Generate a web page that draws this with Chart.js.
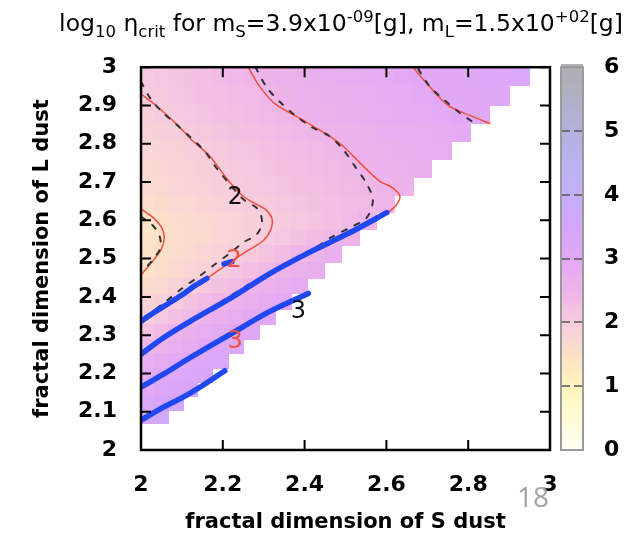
<!DOCTYPE html>
<html>
<head>
<meta charset="utf-8">
<script src="https://cdn.jsdelivr.net/npm/chart.js@4.4.0/dist/chart.umd.min.js"></script>
<style>
  html, body { margin: 0; padding: 0; background: #fff; }
  canvas { display: block; }
</style>
</head>
<body>
<canvas id="chart" width="640" height="543"></canvas>
<script>
// cell edges of the (log-spaced) grid, same for both axes
const cellEdges = [2, 2.034, 2.068, 2.103, 2.139, 2.176, 2.213, 2.251, 2.289, 2.328, 2.368, 2.408, 2.449,
    2.491, 2.534, 2.577, 2.621, 2.666, 2.711, 2.758, 2.805, 2.853, 2.901, 2.951, 3.0];

// log10 eta_crit per cell, first row = top row (L dust 2.951-3.0), each row starts at S dust = 2
const etaRows = [
    [2.05, 2.1, 2.15, 2.2, 2.28, 2.35, 2.42, 2.48, 2.53, 2.58, 2.63, 2.68, 2.73, 2.78, 2.84, 2.89, 2.95, 3.0, 3.04, 3.08, 3.12, 3.16, 3.2],
    [2.02, 2.07, 2.13, 2.19, 2.25, 2.3, 2.35, 2.4, 2.46, 2.52, 2.57, 2.62, 2.67, 2.72, 2.77, 2.82, 2.88, 2.94, 3.0, 3.04, 3.08, 3.12],
    [1.93, 1.99, 2.05, 2.1, 2.16, 2.22, 2.28, 2.34, 2.4, 2.46, 2.52, 2.57, 2.62, 2.68, 2.73, 2.78, 2.83, 2.88, 2.93, 2.98, 3.03],
    [1.85, 1.9, 1.96, 2.02, 2.08, 2.14, 2.2, 2.25, 2.3, 2.36, 2.41, 2.47, 2.53, 2.58, 2.63, 2.69, 2.74, 2.8, 2.85, 2.9],
    [1.78, 1.83, 1.89, 1.95, 2.01, 2.07, 2.12, 2.17, 2.22, 2.27, 2.33, 2.39, 2.45, 2.51, 2.57, 2.63, 2.68, 2.74, 2.79],
    [1.72, 1.77, 1.82, 1.88, 1.94, 2.0, 2.06, 2.11, 2.16, 2.21, 2.26, 2.32, 2.38, 2.45, 2.51, 2.57, 2.62, 2.67],
    [1.66, 1.71, 1.76, 1.82, 1.88, 1.95, 2.01, 2.06, 2.11, 2.16, 2.21, 2.26, 2.31, 2.37, 2.43, 2.48, 2.54],
    [1.56, 1.62, 1.68, 1.74, 1.8, 1.86, 1.92, 1.98, 2.04, 2.1, 2.15, 2.2, 2.26, 2.32, 2.38, 2.45],
    [1.45, 1.52, 1.59, 1.66, 1.72, 1.78, 1.84, 1.9, 1.97, 2.04, 2.1, 2.17, 2.25, 2.36, 2.48],
    [1.42, 1.49, 1.56, 1.63, 1.7, 1.77, 1.84, 1.92, 2.01, 2.1, 2.2, 2.31, 2.43, 2.55],
    [1.44, 1.52, 1.6, 1.68, 1.77, 1.86, 1.95, 2.06, 2.18, 2.31, 2.44, 2.56, 2.66],
    [1.5, 1.58, 1.67, 1.77, 1.88, 2.0, 2.12, 2.25, 2.38, 2.52, 2.64, 2.75],
    [1.62, 1.7, 1.82, 1.95, 2.08, 2.21, 2.35, 2.5, 2.63, 2.76, 2.88],
    [1.8, 1.9, 2.04, 2.18, 2.32, 2.46, 2.6, 2.72, 2.83, 2.95],
    [1.97, 2.1, 2.24, 2.38, 2.52, 2.66, 2.8, 2.94, 3.05],
    [2.22, 2.36, 2.52, 2.66, 2.78, 2.9, 3.01, 3.12],
    [2.46, 2.6, 2.72, 2.84, 2.98, 3.1, 3.2],
    [2.75, 2.85, 2.95, 3.04, 3.14, 3.24],
    [2.92, 3.0, 3.12, 3.24, 3.37],
    [3.05, 3.18, 3.3, 3.45],
    [3.25, 3.4, 3.55],
    [3.5, 3.65]
];

// contour lines [S dust, L dust]
const redA = [[2.0, 2.63], [2.03, 2.607], [2.05, 2.582], [2.057, 2.555], [2.05, 2.525], [2.032, 2.498], [2.012, 2.472], [2.0, 2.457]];
const redB = [[2.0, 2.93], [2.025, 2.91], [2.055, 2.883], [2.09, 2.848], [2.124, 2.81], [2.169, 2.767], [2.195, 2.73], [2.218, 2.698],
    [2.25, 2.663], [2.28, 2.643], [2.305, 2.628], [2.32, 2.605], [2.318, 2.578], [2.3, 2.548], [2.26, 2.52], [2.218, 2.491],
    [2.161, 2.448], [2.1, 2.405], [2.05, 2.372], [2.0, 2.336]];
const redC = [[2.262, 3.0], [2.29, 2.95], [2.328, 2.904], [2.389, 2.866], [2.462, 2.819], [2.495, 2.793], [2.544, 2.741],
    [2.584, 2.702], [2.615, 2.685], [2.633, 2.663], [2.623, 2.638], [2.601, 2.618]];
const redD = [[2.665, 3.0], [2.705, 2.95], [2.751, 2.9], [2.804, 2.874], [2.853, 2.853]];

const dashA = [[2.0, 2.61], [2.03, 2.585], [2.045, 2.56], [2.048, 2.53], [2.035, 2.505], [2.015, 2.48], [2.0, 2.468]];
const dashB = [[2.0, 2.962], [2.022, 2.92], [2.05, 2.885], [2.087, 2.85], [2.12, 2.818], [2.156, 2.78], [2.185, 2.736], [2.218, 2.693],
    [2.25, 2.655], [2.287, 2.628], [2.296, 2.59], [2.28, 2.56], [2.254, 2.545], [2.215, 2.512], [2.177, 2.482], [2.144, 2.455],
    [2.1, 2.422], [2.063, 2.39], [2.022, 2.357], [2.0, 2.342]];
const dashC = [[2.28, 3.0], [2.307, 2.948], [2.34, 2.909], [2.377, 2.874], [2.417, 2.844], [2.462, 2.819], [2.495, 2.784], [2.523, 2.741],
    [2.548, 2.702], [2.567, 2.655], [2.552, 2.607], [2.511, 2.581], [2.466, 2.556], [2.421, 2.525], [2.37, 2.497], [2.32, 2.467],
    [2.26, 2.43], [2.2, 2.39], [2.14, 2.35], [2.08, 2.31], [2.0, 2.258]];
const dashD = [[2.678, 2.995], [2.707, 2.948], [2.743, 2.913], [2.78, 2.88], [2.817, 2.853]];

const blue1 = [[2.0, 2.336], [2.03, 2.358], [2.06, 2.378], [2.1, 2.405], [2.13, 2.428], [2.161, 2.448]];
const blue1b = [[2.203, 2.486], [2.222, 2.492]];
const blue2 = [[2.0, 2.25], [2.055, 2.293], [2.12, 2.336], [2.218, 2.396], [2.315, 2.461], [2.413, 2.517], [2.511, 2.568], [2.601, 2.62]];
const blue3 = [[2.0, 2.164], [2.055, 2.198], [2.12, 2.241], [2.218, 2.302], [2.315, 2.362], [2.409, 2.409]];
const blue4 = [[2.0, 2.078], [2.055, 2.112], [2.103, 2.138], [2.144, 2.164], [2.205, 2.207]];

// contour labels [S dust, L dust, text, red?]
const contourLabels = [[2.23, 2.659, '2', false], [2.228, 2.495, '2', true], [2.385, 2.362, '3', false], [2.23, 2.284, '3', true]];

// colour palette of the colour box
const paletteValues = [0, 0.5, 1, 1.5, 2, 2.5, 3, 3.5, 4, 4.5, 5, 5.5, 6];
const paletteRGB = [[253, 253, 244], [255, 251, 214], [255, 245, 188], [251, 225, 200], [247, 204, 222], [238, 180, 234], [226, 168, 246],
    [212, 166, 250], [198, 175, 250], [186, 178, 240], [178, 178, 222], [176, 176, 200], [175, 175, 178]];

const titleParts = [['log', 0], ['10', 1], [' \u03b7', 0], ['crit', 1], [' for m', 0], ['S', 1], ['=3.9x10', 0], ['-09', 2],
    ['[g], m', 0], ['L', 1], ['=1.5x10', 0], ['+02', 2], ['[g]', 0]];

const FONT = '"DejaVu Sans", sans-serif';

function etaColor(v) {
    let i = 0;
    while (i < paletteValues.length - 2 && v > paletteValues[i + 1]) i++;
    const t = Math.min(1, Math.max(0, (v - paletteValues[i]) / (paletteValues[i + 1] - paletteValues[i])));
    const a = paletteRGB[i], b = paletteRGB[i + 1];
    return `rgb(${a.map((c, k) => Math.round(c + (b[k] - c) * t)).join(',')})`;
}

const toPts = arr => arr.map(p => ({ x: p[0], y: p[1] }));

function line(data, color, width, dash) {
    return {
        data: toPts(data), showLine: true, borderColor: color, borderWidth: width,
        borderDash: dash || [], pointRadius: 0, fill: false, tension: 0.3, borderCapStyle: 'round'
    };
}

const RED = '#f0503c', BLUE = '#1f48f2', DASH = '#333';

const heatmap = {
    id: 'heatmap',
    beforeDatasetsDraw(chart) {
        const { ctx, scales: { x, y } } = chart;
        ctx.save();
        etaRows.forEach((row, k) => {
            const r = cellEdges.length - 2 - k;
            const y0 = Math.floor(y.getPixelForValue(cellEdges[r + 1]));
            const y1 = Math.ceil(y.getPixelForValue(cellEdges[r]));
            row.forEach((v, c) => {
                const x0 = Math.floor(x.getPixelForValue(cellEdges[c]));
                const x1 = Math.ceil(x.getPixelForValue(cellEdges[c + 1]));
                ctx.fillStyle = etaColor(v);
                ctx.fillRect(x0, y0, x1 - x0, y1 - y0);
            });
        });
        ctx.restore();
    }
};

const frame = {
    id: 'frame',
    afterDatasetsDraw(chart) {
        const { ctx, chartArea: a, scales: { x, y, y2 } } = chart;
        ctx.save();
        // contour labels
        ctx.font = '24px ' + FONT;
        ctx.textAlign = 'center';
        ctx.textBaseline = 'middle';
        contourLabels.forEach(([lx, ly, txt, red]) => {
            ctx.fillStyle = red ? RED : '#111';
            ctx.fillText(txt, x.getPixelForValue(lx), y.getPixelForValue(ly));
        });
        // inward tick marks and border
        ctx.strokeStyle = '#000';
        ctx.lineWidth = 2;
        ctx.beginPath();
        x.ticks.forEach(t => {
            const px = x.getPixelForValue(t.value);
            ctx.moveTo(px, a.bottom); ctx.lineTo(px, a.bottom - 10);
            ctx.moveTo(px, a.top); ctx.lineTo(px, a.top + 10);
        });
        y.ticks.forEach(t => {
            const py = y.getPixelForValue(t.value);
            ctx.moveTo(a.left, py); ctx.lineTo(a.left + 10, py);
            ctx.moveTo(a.right, py); ctx.lineTo(a.right - 10, py);
        });
        ctx.stroke();
        ctx.lineWidth = 2.5;
        ctx.strokeRect(a.left, a.top, a.right - a.left, a.bottom - a.top);

        // colour box
        const bx0 = a.right + 11, bx1 = a.right + 33;
        for (let v = 0; v < 6; v += 0.05) {
            const p0 = y2.getPixelForValue(v + 0.05), p1 = y2.getPixelForValue(v);
            ctx.fillStyle = etaColor(v + 0.025);
            ctx.fillRect(bx0, Math.floor(p0), bx1 - bx0, Math.ceil(p1) - Math.floor(p0));
        }
        ctx.strokeStyle = '#555';
        ctx.lineWidth = 1.5;
        ctx.setLineDash([9, 4]);
        ctx.beginPath();
        y2.ticks.forEach(t => {
            if (t.value <= 0 || t.value >= 6) return;
            const py = Math.round(y2.getPixelForValue(t.value));
            ctx.moveTo(bx0, py); ctx.lineTo(bx1, py);
        });
        ctx.stroke();
        ctx.setLineDash([]);
        ctx.strokeStyle = '#9a9a9a';
        ctx.lineWidth = 2;
        ctx.strokeRect(bx0, y2.getPixelForValue(6), bx1 - bx0, y2.getPixelForValue(0) - y2.getPixelForValue(6));

        // title with sub/superscripts
        const sizes = [23.5, 16.5, 16.5];
        const shift = [0, 6, -9];
        let total = 0;
        titleParts.forEach(([t, k]) => { ctx.font = sizes[k] + 'px ' + FONT; total += ctx.measureText(t).width; });
        let tx = 341 - total / 2;
        ctx.fillStyle = '#000';
        ctx.textAlign = 'left';
        ctx.textBaseline = 'alphabetic';
        titleParts.forEach(([t, k]) => {
            ctx.font = sizes[k] + 'px ' + FONT;
            ctx.fillText(t, tx, 31 + shift[k]);
            tx += ctx.measureText(t).width;
        });

        // slide number
        ctx.font = '28px "Open Sans", sans-serif';
        ctx.fillStyle = '#a3a3a3';
        ctx.fillText('18', 517, 507);
        ctx.restore();
    }
};

const tickFont = { family: FONT, size: 22, weight: 'bold' };
const titleFont = { family: FONT, size: 21, weight: 'bold' };
const fmt = v => String(Number(v.toFixed(1)));
const DASHES = [5, 9];

new Chart(document.getElementById('chart'), {
    type: 'scatter',
    data: {
        // first dataset is drawn on top: blue, then dashed, then red
        datasets: [
            line(blue1, BLUE, 5.5), line(blue1b, BLUE, 5.5), line(blue2, BLUE, 5.5), line(blue3, BLUE, 5.5), line(blue4, BLUE, 5.5),
            line(dashA, DASH, 2, DASHES), line(dashB, DASH, 2, DASHES), line(dashC, DASH, 2, DASHES), line(dashD, DASH, 2, DASHES),
            line(redA, RED, 1.5), line(redB, RED, 1.5), line(redC, RED, 1.5), line(redD, RED, 1.5)
        ]
    },
    options: {
        responsive: false,
        animation: false,
        devicePixelRatio: 1,
        layout: { padding: { top: 63, left: 0, right: 0, bottom: 0 } },
        plugins: { legend: { display: false }, tooltip: { enabled: false } },
        scales: {
            x: {
                type: 'linear', min: 2, max: 3, position: 'bottom',
                grid: { display: false, drawTicks: false }, border: { display: false },
                ticks: { stepSize: 0.2, font: tickFont, color: '#000', padding: 22, callback: fmt },
                title: { display: true, text: 'fractal dimension of S dust', font: titleFont, color: '#000', padding: { top: 0, bottom: 8 } },
                afterFit: s => { s.height = 93; }
            },
            y: {
                type: 'linear', min: 2, max: 3, position: 'left',
                grid: { display: false, drawTicks: false }, border: { display: false },
                ticks: { stepSize: 0.1, font: tickFont, color: '#000', padding: 24, callback: fmt },
                title: { display: true, text: 'fractal dimension of L dust', font: titleFont, color: '#000', padding: { top: 30, bottom: 0 } },
                afterFit: s => { s.width = 141; }
            },
            y2: {
                type: 'linear', min: 0, max: 6, position: 'right', axis: 'y',
                grid: { display: false, drawTicks: false }, border: { display: false },
                ticks: { stepSize: 1, font: tickFont, color: '#000', padding: 54 },
                afterFit: s => { s.width = 90; }
            }
        }
    },
    plugins: [heatmap, frame]
});
</script>
</body>
</html>
